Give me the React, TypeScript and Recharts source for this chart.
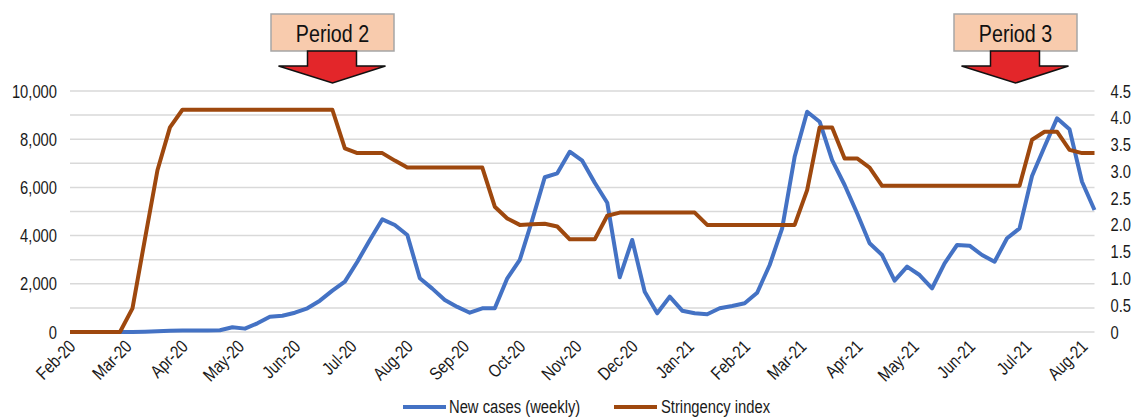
import { LineChart, Line, XAxis, YAxis, CartesianGrid } from 'recharts'

// no Arial Narrow here, so squeeze Liberation Sans horizontally
const FONT = "'Liberation Sans', Arial, sans-serif"
const SQUEEZE = 0.82

// month labels on the date axis
const monthLabels = [
  'Feb-20', 'Mar-20', 'Apr-20', 'May-20', 'Jun-20', 'Jul-20', 'Aug-20', 'Sep-20', 'Oct-20', 'Nov-20',
  'Dec-20', 'Jan-21', 'Feb-21', 'Mar-21', 'Apr-21', 'May-21', 'Jun-21', 'Jul-21', 'Aug-21',
]
// last data point falls a little after the Aug-21 tick
const MONTH_SPAN = 18.22

// new cases (weekly), left axis
const newCases = [
  0, 0, 0, 0, 0, 0, 10, 30, 55, 65,
  65, 65, 70, 195, 140, 360, 635, 675, 800, 985,
  1300, 1715, 2090, 2915, 3820, 4675, 4440, 4025, 2230, 1800,
  1330, 1040, 800, 985, 985, 2230, 2990, 4650, 6420, 6585,
  7480, 7110, 6195, 5365, 2270, 3820, 1670, 775, 1465, 885,
  775, 735, 985, 1080, 1190, 1630, 2780, 4300, 7270, 9140,
  8725, 7135, 6100, 4925, 3680, 3195, 2130, 2710, 2365, 1815,
  2850, 3610, 3580, 3195, 2915, 3890, 4300, 6470, 7690, 8865,
  8410, 6235, 5060,
]

// stringency index, right axis
const stringency = [
  0, 0, 0, 0, 0, 0.44, 1.74, 3.02, 3.82, 4.15,
  4.15, 4.15, 4.15, 4.15, 4.15, 4.15, 4.15, 4.15, 4.15, 4.15,
  4.15, 4.15, 3.43, 3.34, 3.34, 3.34, 3.2, 3.07, 3.07, 3.07,
  3.07, 3.07, 3.07, 3.07, 2.34, 2.12, 2.0, 2.01, 2.02, 1.97,
  1.73, 1.73, 1.73, 2.17, 2.23, 2.23, 2.23, 2.23, 2.23, 2.23,
  2.23, 2.0, 2.0, 2.0, 2.0, 2.0, 2.0, 2.0, 2.0, 2.65,
  3.82, 3.82, 3.24, 3.24, 3.07, 2.73, 2.73, 2.73, 2.73, 2.73,
  2.73, 2.73, 2.73, 2.73, 2.73, 2.73, 2.73, 3.59, 3.74, 3.74,
  3.4, 3.34, 3.34,
]

const leftTicks = [0, 1000, 2000, 3000, 4000, 5000, 6000, 7000, 8000, 9000, 10000]
const rightTicks = [0, 0.5, 1, 1.5, 2, 2.5, 3, 3.5, 4, 4.5]

const BLUE = '#4472C4'
const BROWN = '#9E480E'
const INK = '#1a1a1a'

const data = newCases.map((c, i) => ({ idx: i, cases: c, stringency: stringency[i] }))

const fmtLeft = (v: number) => (v % 2000 === 0 ? v.toLocaleString('en-US') : '')
const fmtRight = (v: number) => (v === 0 ? '0' : v.toFixed(1))

const MonthTick = ({ x, y, payload }: any) => (
  <text
    transform={`translate(${x + 2},${y + 11}) rotate(-45) scale(${SQUEEZE},1)`}
    textAnchor="end"
    dominantBaseline="central"
    fontSize={18}
    fontFamily={FONT}
    fill={INK}
  >
    {monthLabels[payload.value]}
  </text>
)

const ValueTick = ({ x, y, payload, textAnchor, fmt }: any) => (
  <text
    transform={`translate(${x},${y}) scale(${SQUEEZE},1)`}
    textAnchor={textAnchor}
    dominantBaseline="central"
    fontSize={18}
    fontFamily={FONT}
    fill={INK}
  >
    {fmt(payload.value)}
  </text>
)

// callout box with a down arrow
const Callout = ({ x1, x2, label }: { x1: number; x2: number; label: string }) => {
  const cx = (x1 + x2) / 2
  return (
    <g>
      <rect x={x1} y={14} width={x2 - x1} height={37} fill="#F8CBAD" stroke="#A6A6A6" strokeWidth={1.5} />
      <text
        transform={`translate(${cx},34) scale(${SQUEEZE},1)`}
        textAnchor="middle"
        dominantBaseline="central"
        fontSize={24}
        fontFamily={FONT}
        fill="#111"
      >
        {label}
      </text>
      <polygon
        points={`${cx - 25},51 ${cx + 24},51 ${cx + 24},66 ${cx + 53},66 ${cx},83 ${cx - 54},66 ${cx - 25},66`}
        fill="#E3262A"
        stroke="#111"
        strokeWidth={1.5}
      />
    </g>
  )
}

const legendText = {
  position: 'absolute' as const,
  top: -1,
  lineHeight: '22px',
  whiteSpace: 'nowrap' as const,
  transform: `scaleX(${SQUEEZE})`,
  transformOrigin: 'left center',
}

export default function App() {
  return (
    <div style={{ position: 'absolute', left: 0, top: 0, width: 1140, height: 417, background: '#fff', fontFamily: FONT }}>
      <LineChart width={1140} height={417} data={data} margin={{ top: 91, right: 0, left: 0, bottom: 0 }}>
        <CartesianGrid xAxisId="w" yAxisId="left" vertical={false} stroke="#D9D9D9" strokeWidth={1.5} />
        <XAxis xAxisId="w" dataKey="idx" type="number" domain={['dataMin', 'dataMax']} hide />
        <XAxis
          xAxisId="m"
          dataKey="idx"
          type="number"
          domain={[0, MONTH_SPAN]}
          allowDataOverflow
          ticks={monthLabels.map((_, k) => k)}
          interval={0}
          tick={<MonthTick />}
          tickLine={false}
          axisLine={false}
          tickSize={0}
          tickMargin={0}
          height={85}
        />
        <YAxis
          yAxisId="left"
          width={70}
          domain={[0, 10000]}
          ticks={leftTicks}
          interval={0}
          tick={<ValueTick fmt={fmtLeft} />}
          tickLine={false}
          axisLine={false}
          tickSize={0}
          tickMargin={13}
        />
        <YAxis
          yAxisId="right"
          orientation="right"
          width={45.5}
          domain={[0, 4.5]}
          ticks={rightTicks}
          interval={0}
          tick={<ValueTick fmt={fmtRight} />}
          tickLine={false}
          axisLine={false}
          tickSize={0}
          tickMargin={16}
        />
        <Line
          xAxisId="w"
          yAxisId="left"
          type="linear"
          dataKey="cases"
          name="New cases (weekly)"
          stroke={BLUE}
          strokeWidth={4}
          strokeLinejoin="round"
          dot={false}
          activeDot={false}
          isAnimationActive={false}
        />
        <Line
          xAxisId="w"
          yAxisId="right"
          type="linear"
          dataKey="stringency"
          name="Stringency index"
          stroke={BROWN}
          strokeWidth={4}
          strokeLinejoin="round"
          dot={false}
          activeDot={false}
          isAnimationActive={false}
        />
      </LineChart>

      <svg width={1140} height={100} style={{ position: 'absolute', left: 0, top: 0 }}>
        <Callout x1={271} x2={394} label="Period 2" />
        <Callout x1={954} x2={1077} label="Period 3" />
      </svg>

      {/* legend */}
      <div style={{ position: 'absolute', top: 397, left: 0, width: 1140, height: 20, fontSize: 18, color: INK }}>
        <span style={{ position: 'absolute', left: 403, top: 8, width: 43, height: 4, background: BLUE }} />
        <span style={{ ...legendText, left: 449 }}>New cases (weekly)</span>
        <span style={{ position: 'absolute', left: 614, top: 8, width: 43, height: 4, background: BROWN }} />
        <span style={{ ...legendText, left: 661 }}>Stringency index</span>
      </div>
    </div>
  )
}
